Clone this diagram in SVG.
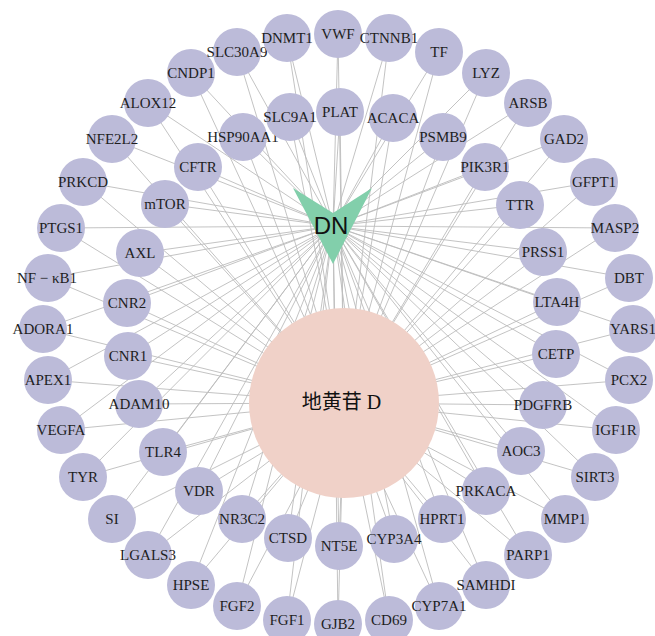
<svg xmlns="http://www.w3.org/2000/svg" width="655" height="636" viewBox="0 0 655 636">
<style>
.e{stroke:#bcbcbc;stroke-width:0.9;fill:none}
.t circle{fill:#bcbbd9}
.t text{font-family:"Liberation Serif",serif;font-size:15px;fill:#1e1e1e;text-anchor:middle}
</style>
<rect width="655" height="636" fill="#fff"/>
<g id="edges">
<path class="e" d="M338 34L333 226M338 34L344 403
M389 38L333 226M389 38L344 403
M439 52L333 226M439 52L344 403
M486 73L333 226M486 73L344 403
M528 103L333 226M528 103L344 403
M564 139L333 226M564 139L344 403
M594 182L333 226M594 182L344 403
M615 228L333 226M615 228L344 403
M629 278L333 226M629 278L344 403
M633 329L333 226M633 329L344 403
M629 380L333 226M629 380L344 403
M616 430L333 226M616 430L344 403
M595 477L333 226M595 477L344 403
M565 519L333 226M565 519L344 403
M528 555L333 226M528 555L344 403
M486 585L333 226M486 585L344 403
M439 606L333 226M439 606L344 403
M389 620L333 226M389 620L344 403
M338 624L333 226M338 624L344 403
M287 620L333 226M287 620L344 403
M237 606L333 226M237 606L344 403
M191 585L333 226M191 585L344 403
M148 555L333 226M148 555L344 403
M112 519L333 226M112 519L344 403
M83 477L333 226M83 477L344 403
M61 430L333 226M61 430L344 403
M48 380L333 226M48 380L344 403
M43 329L333 226M43 329L344 403
M48 278L333 226M48 278L344 403
M61 228L333 226M61 228L344 403
M83 182L333 226M83 182L344 403
M112 139L333 226M112 139L344 403
M148 103L333 226M148 103L344 403
M191 73L333 226M191 73L344 403
M237 52L333 226M237 52L344 403
M287 38L333 226M287 38L344 403
M340 112L333 226M340 112L344 403
M393 118L333 226M393 118L344 403
M443 137L333 226M443 137L344 403
M485 167L333 226M485 167L344 403
M520 205L333 226M520 205L344 403
M543 252L333 226M543 252L344 403
M557 302L333 226M557 302L344 403
M556 354L333 226M556 354L344 403
M543 405L333 226M543 405L344 403
M521 451L333 226M521 451L344 403
M486 491L333 226M486 491L344 403
M442 519L333 226M442 519L344 403
M394 539L333 226M394 539L344 403
M339 546L333 226M339 546L344 403
M288 538L333 226M288 538L344 403
M242 519L333 226M242 519L344 403
M199 491L333 226M199 491L344 403
M163 452L333 226M163 452L344 403
M139 404L333 226M139 404L344 403
M128 356L333 226M128 356L344 403
M127 303L333 226M127 303L344 403
M140 253L333 226M140 253L344 403
M165 204L333 226M165 204L344 403
M198 167L333 226M198 167L344 403
M243 137L333 226M243 137L344 403
M290 117L333 226M290 117L344 403"/>
</g>
<g id="compound">
<circle cx="344" cy="403" r="95" fill="#f0d1c8"/>
<text x="341.5" y="409" text-anchor="middle" font-family="'Liberation Serif','Noto Sans CJK SC',serif" font-size="20" fill="#111">地黄苷 D</text>
</g>
<g id="DN">
<polygon points="293,188 333,213 372,188 333,264" fill="#82cfab"/>
<text x="331" y="234" text-anchor="middle" font-family="'Liberation Sans',Arial,sans-serif" font-size="24" fill="#111">DN</text>
</g>
<g id="n-VWF" class="t"><circle cx="338" cy="34" r="24"/><text x="338" y="39">VWF</text></g>
<g id="n-CTNNB1" class="t"><circle cx="389" cy="38" r="24"/><text x="389" y="43">CTNNB1</text></g>
<g id="n-TF" class="t"><circle cx="439" cy="52" r="24"/><text x="439" y="57">TF</text></g>
<g id="n-LYZ" class="t"><circle cx="486" cy="73" r="24"/><text x="486" y="78">LYZ</text></g>
<g id="n-ARSB" class="t"><circle cx="528" cy="103" r="24"/><text x="528" y="108">ARSB</text></g>
<g id="n-GAD2" class="t"><circle cx="564" cy="139" r="24"/><text x="564" y="144">GAD2</text></g>
<g id="n-GFPT1" class="t"><circle cx="594" cy="182" r="24"/><text x="594" y="187">GFPT1</text></g>
<g id="n-MASP2" class="t"><circle cx="615" cy="228" r="24"/><text x="615" y="233">MASP2</text></g>
<g id="n-DBT" class="t"><circle cx="629" cy="278" r="24"/><text x="629" y="283">DBT</text></g>
<g id="n-YARS1" class="t"><circle cx="633" cy="329" r="24"/><text x="633" y="334">YARS1</text></g>
<g id="n-PCX2" class="t"><circle cx="629" cy="380" r="24"/><text x="629" y="385">PCX2</text></g>
<g id="n-IGF1R" class="t"><circle cx="616" cy="430" r="24"/><text x="616" y="435">IGF1R</text></g>
<g id="n-SIRT3" class="t"><circle cx="595" cy="477" r="24"/><text x="595" y="482">SIRT3</text></g>
<g id="n-MMP1" class="t"><circle cx="565" cy="519" r="24"/><text x="565" y="524">MMP1</text></g>
<g id="n-PARP1" class="t"><circle cx="528" cy="555" r="24"/><text x="528" y="560">PARP1</text></g>
<g id="n-SAMHDI" class="t"><circle cx="486" cy="585" r="24"/><text x="486" y="590">SAMHDI</text></g>
<g id="n-CYP7A1" class="t"><circle cx="439" cy="606" r="24"/><text x="439" y="611">CYP7A1</text></g>
<g id="n-CD69" class="t"><circle cx="389" cy="620" r="24"/><text x="389" y="625">CD69</text></g>
<g id="n-GJB2" class="t"><circle cx="338" cy="624" r="24"/><text x="338" y="629">GJB2</text></g>
<g id="n-FGF1" class="t"><circle cx="287" cy="620" r="24"/><text x="287" y="625">FGF1</text></g>
<g id="n-FGF2" class="t"><circle cx="237" cy="606" r="24"/><text x="237" y="611">FGF2</text></g>
<g id="n-HPSE" class="t"><circle cx="191" cy="585" r="24"/><text x="191" y="590">HPSE</text></g>
<g id="n-LGALS3" class="t"><circle cx="148" cy="555" r="24"/><text x="148" y="560">LGALS3</text></g>
<g id="n-SI" class="t"><circle cx="112" cy="519" r="24"/><text x="112" y="524">SI</text></g>
<g id="n-TYR" class="t"><circle cx="83" cy="477" r="24"/><text x="83" y="482">TYR</text></g>
<g id="n-VEGFA" class="t"><circle cx="61" cy="430" r="24"/><text x="61" y="435">VEGFA</text></g>
<g id="n-APEX1" class="t"><circle cx="48" cy="380" r="24"/><text x="48" y="385">APEX1</text></g>
<g id="n-ADORA1" class="t"><circle cx="43" cy="329" r="24"/><text x="43" y="334">ADORA1</text></g>
<g id="n-NFKB1" class="t"><circle cx="48" cy="278" r="24"/><text x="47" y="283">NF − κB1</text></g>
<g id="n-PTGS1" class="t"><circle cx="61" cy="228" r="24"/><text x="61" y="233">PTGS1</text></g>
<g id="n-PRKCD" class="t"><circle cx="83" cy="182" r="24"/><text x="83" y="187">PRKCD</text></g>
<g id="n-NFE2L2" class="t"><circle cx="112" cy="139" r="24"/><text x="112" y="144">NFE2L2</text></g>
<g id="n-ALOX12" class="t"><circle cx="148" cy="103" r="24"/><text x="148" y="108">ALOX12</text></g>
<g id="n-CNDP1" class="t"><circle cx="191" cy="73" r="24"/><text x="191" y="78">CNDP1</text></g>
<g id="n-SLC30A9" class="t"><circle cx="237" cy="52" r="24"/><text x="237" y="57">SLC30A9</text></g>
<g id="n-DNMT1" class="t"><circle cx="287" cy="38" r="24"/><text x="287" y="43">DNMT1</text></g>
<g id="n-PLAT" class="t"><circle cx="340" cy="112" r="24"/><text x="340" y="117">PLAT</text></g>
<g id="n-ACACA" class="t"><circle cx="393" cy="118" r="24"/><text x="393" y="123">ACACA</text></g>
<g id="n-PSMB9" class="t"><circle cx="443" cy="137" r="24"/><text x="443" y="142">PSMB9</text></g>
<g id="n-PIK3R1" class="t"><circle cx="485" cy="167" r="24"/><text x="485" y="172">PIK3R1</text></g>
<g id="n-TTR" class="t"><circle cx="520" cy="205" r="24"/><text x="520" y="210">TTR</text></g>
<g id="n-PRSS1" class="t"><circle cx="543" cy="252" r="24"/><text x="543" y="257">PRSS1</text></g>
<g id="n-LTA4H" class="t"><circle cx="557" cy="302" r="24"/><text x="557" y="307">LTA4H</text></g>
<g id="n-CETP" class="t"><circle cx="556" cy="354" r="24"/><text x="556" y="359">CETP</text></g>
<g id="n-PDGFRB" class="t"><circle cx="543" cy="405" r="24"/><text x="543" y="410">PDGFRB</text></g>
<g id="n-AOC3" class="t"><circle cx="521" cy="451" r="24"/><text x="521" y="456">AOC3</text></g>
<g id="n-PRKACA" class="t"><circle cx="486" cy="491" r="24"/><text x="486" y="496">PRKACA</text></g>
<g id="n-HPRT1" class="t"><circle cx="442" cy="519" r="24"/><text x="442" y="524">HPRT1</text></g>
<g id="n-CYP3A4" class="t"><circle cx="394" cy="539" r="24"/><text x="394" y="544">CYP3A4</text></g>
<g id="n-NT5E" class="t"><circle cx="339" cy="546" r="24"/><text x="339" y="551">NT5E</text></g>
<g id="n-CTSD" class="t"><circle cx="288" cy="538" r="24"/><text x="288" y="543">CTSD</text></g>
<g id="n-NR3C2" class="t"><circle cx="242" cy="519" r="24"/><text x="242" y="524">NR3C2</text></g>
<g id="n-VDR" class="t"><circle cx="199" cy="491" r="24"/><text x="199" y="496">VDR</text></g>
<g id="n-TLR4" class="t"><circle cx="163" cy="452" r="24"/><text x="163" y="457">TLR4</text></g>
<g id="n-ADAM10" class="t"><circle cx="139" cy="404" r="24"/><text x="139" y="409">ADAM10</text></g>
<g id="n-CNR1" class="t"><circle cx="128" cy="356" r="24"/><text x="128" y="361">CNR1</text></g>
<g id="n-CNR2" class="t"><circle cx="127" cy="303" r="24"/><text x="127" y="308">CNR2</text></g>
<g id="n-AXL" class="t"><circle cx="140" cy="253" r="24"/><text x="140" y="258">AXL</text></g>
<g id="n-mTOR" class="t"><circle cx="165" cy="204" r="24"/><text x="165" y="209">mTOR</text></g>
<g id="n-CFTR" class="t"><circle cx="198" cy="167" r="24"/><text x="198" y="172">CFTR</text></g>
<g id="n-HSP90AA1" class="t"><circle cx="243" cy="137" r="24"/><text x="243" y="142">HSP90AA1</text></g>
<g id="n-SLC9A1" class="t"><circle cx="290" cy="117" r="24"/><text x="290" y="122">SLC9A1</text></g>
</svg>
